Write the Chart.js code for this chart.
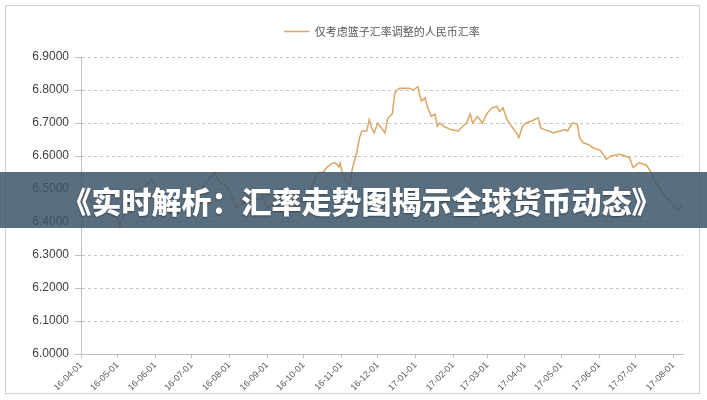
<!DOCTYPE html>
<html>
<head>
<meta charset="utf-8">
<script src="https://cdn.jsdelivr.net/npm/chart.js@4"></script>
<style>
  html, body { margin: 0; padding: 0; background: #fff; }
  #wrap { position: relative; width: 707px; height: 400px; }
  #frame { position: absolute; left: 5px; top: 5px; width: 693px; height: 387px; border: 1px solid #cfcfcf; }
  #banner {
    position: absolute; left: 0; top: 172px; width: 707px; height: 56px;
    background: rgba(60, 85, 105, 0.85); color: #fff;
    font: 900 30px "Noto Sans CJK SC", sans-serif; line-height: 56px;
    text-align: center; box-sizing: border-box; padding-left: 16px;
    text-shadow: 0 1px 2px rgba(0, 0, 0, 0.4);
  }
</style>
</head>
<body>
<div id="wrap">
  <div id="frame"></div>
  <canvas id="rateChart" width="707" height="400"></canvas>
  <div id="banner">《实时解析：汇率走势图揭示全球货币动态》</div>
</div>
<script>
// Basket-only CNY rate
const dates = [
  '2016-04-01', '2016-04-07', '2016-04-13', '2016-04-19', '2016-04-23', '2016-04-27',
  '2016-05-01', '2016-05-03', '2016-05-07', '2016-05-11', '2016-05-17', '2016-05-23', '2016-05-29',
  '2016-06-02', '2016-06-07', '2016-06-13', '2016-06-19', '2016-06-24', '2016-06-30',
  '2016-07-05', '2016-07-10', '2016-07-14', '2016-07-20', '2016-07-24', '2016-07-30',
  '2016-08-03', '2016-08-07', '2016-08-12', '2016-08-16', '2016-08-22', '2016-08-28',
  '2016-09-01', '2016-09-06', '2016-09-12', '2016-09-18', '2016-09-23', '2016-09-29',
  '2016-10-03', '2016-10-07', '2016-10-11', '2016-10-13', '2016-10-17', '2016-10-20', '2016-10-24', '2016-10-27', '2016-10-30', '2016-10-31',
  '2016-11-02', '2016-11-05', '2016-11-08', '2016-11-10', '2016-11-14', '2016-11-16', '2016-11-18', '2016-11-22', '2016-11-24', '2016-11-26', '2016-11-28',
  '2016-12-01', '2016-12-04', '2016-12-07', '2016-12-09', '2016-12-13', '2016-12-15', '2016-12-17', '2016-12-19', '2016-12-23', '2016-12-27', '2016-12-30',
  '2017-01-03', '2017-01-04', '2017-01-06', '2017-01-09', '2017-01-11', '2017-01-14', '2017-01-17', '2017-01-19', '2017-01-21', '2017-01-24', '2017-01-30',
  '2017-02-05', '2017-02-09', '2017-02-12', '2017-02-15', '2017-02-17', '2017-02-21', '2017-02-25',
  '2017-03-01', '2017-03-05', '2017-03-09', '2017-03-11', '2017-03-14', '2017-03-17', '2017-03-21', '2017-03-25', '2017-03-27', '2017-03-30',
  '2017-04-02', '2017-04-07', '2017-04-12', '2017-04-14', '2017-04-17', '2017-04-21', '2017-04-24', '2017-04-30',
  '2017-05-04', '2017-05-06', '2017-05-10', '2017-05-14', '2017-05-16', '2017-05-19', '2017-05-23', '2017-05-27',
  '2017-06-02', '2017-06-07', '2017-06-11', '2017-06-18', '2017-06-22', '2017-06-26', '2017-06-29',
  '2017-07-04', '2017-07-10', '2017-07-13', '2017-07-17', '2017-07-21', '2017-07-25', '2017-07-29',
  '2017-08-02', '2017-08-05', '2017-08-08'
];
const rates = [
  6.46, 6.47, 6.45, 6.44, 6.45, 6.425,
  6.41, 6.385, 6.43, 6.465, 6.495, 6.505, 6.53,
  6.505, 6.46, 6.43, 6.425, 6.44, 6.465,
  6.48, 6.505, 6.525, 6.55, 6.52, 6.51,
  6.475, 6.445, 6.455, 6.475, 6.465, 6.475,
  6.445, 6.45, 6.465, 6.47, 6.455, 6.46,
  6.475, 6.50, 6.535, 6.55, 6.55, 6.565, 6.577, 6.58, 6.567, 6.578,
  6.547, 6.525, 6.515, 6.56, 6.615, 6.655, 6.676, 6.676, 6.71, 6.685, 6.67,
  6.70, 6.685, 6.67, 6.712, 6.728, 6.79, 6.80, 6.805, 6.805, 6.805, 6.80,
  6.81, 6.79, 6.767, 6.776, 6.746, 6.72, 6.727, 6.69, 6.70, 6.69, 6.68,
  6.676, 6.69, 6.70, 6.727, 6.70, 6.72, 6.70,
  6.73, 6.746, 6.75, 6.735, 6.746, 6.713, 6.69, 6.67, 6.655, 6.69,
  6.70, 6.707, 6.716, 6.685, 6.68, 6.676, 6.67, 6.676,
  6.68, 6.676, 6.70, 6.697, 6.655, 6.64, 6.635, 6.625,
  6.617, 6.59, 6.60, 6.605, 6.60, 6.595, 6.565,
  6.58, 6.572, 6.555, 6.525, 6.50, 6.48, 6.465,
  6.445, 6.435, 6.45
];
const tickLabels = ['16-04-01', '16-05-01', '16-06-01', '16-07-01', '16-08-01', '16-09-01', '16-10-01', '16-11-01',
  '16-12-01', '17-01-01', '17-02-01', '17-03-01', '17-04-01', '17-05-01', '17-06-01', '17-07-01', '17-08-01'];
const yTicks = [6.0, 6.1, 6.2, 6.3, 6.4, 6.5, 6.6, 6.7, 6.8, 6.9];
const lastDate = '2017-08-09';

// days since the first date, used as x position
function dayOf(s) {
    const p = s.split('-').map(Number);
    return (Date.UTC(p[0], p[1] - 1, p[2]) - Date.UTC(2016, 3, 1)) / 86400000;
}
const tickDays = tickLabels.map(t => dayOf('20' + t));
const points = dates.map((d, i) => ({ x: dayOf(d), y: rates[i] }));

const lineColor = '#DAA664';
const ctx = document.getElementById('rateChart').getContext('2d');
const rateChart = new Chart(ctx, {
    type: 'line',
    data: {
        datasets: [{
            label: '仅考虑篮子汇率调整的人民币汇率',
            data: points,
            borderColor: lineColor,
            backgroundColor: lineColor,
            borderWidth: 1.5,
            pointRadius: 0,
            tension: 0,
            fill: false,
        }]
    },
    options: {
        responsive: false,
        animation: false,
        layout: { padding: { left: 6, right: 24, top: 14, bottom: 6 } },
        plugins: {
            legend: {
                position: 'top',
                fullSize: false,
                labels: {
                    usePointStyle: true,
                    pointStyle: 'line',
                    pointStyleWidth: 25,
                    font: { size: 11, family: 'Noto Sans CJK SC' },
                    color: '#595959',
                    padding: 12,
                },
            },
            tooltip: { enabled: false },
        },
        scales: {
            x: {
                type: 'linear',
                min: 0,
                max: dayOf(lastDate),
                afterBuildTicks: (s) => { s.ticks = tickDays.map(v => ({ value: v })); },
                afterFit: (s) => { s.height = 40; },
                ticks: {
                    autoSkip: false,
                    minRotation: 45,
                    maxRotation: 45,
                    font: { size: 9, family: 'Liberation Sans' },
                    color: '#595959',
                    padding: 2,
                    callback: (v, i) => tickLabels[i],
                },
                grid: { drawOnChartArea: false, drawTicks: true, tickLength: 4, color: '#bfbfbf' },
                border: { color: '#bfbfbf' },
            },
            // empty strip between legend and plot
            gap: {
                type: 'linear',
                position: 'top',
                afterFit: (s) => { s.height = 10; },
                ticks: { display: false },
                grid: { display: false },
                border: { display: false },
            },
            y: {
                min: 6.0,
                max: 6.9,
                afterBuildTicks: (s) => { s.ticks = yTicks.map(v => ({ value: v })); },
                afterFit: (s) => { s.width = 75; },
                ticks: {
                    font: { size: 12, family: 'Liberation Sans' },
                    color: '#404040',
                    padding: 6,
                    callback: (v) => Number(v).toFixed(4),
                },
                grid: {
                    color: '#c4c4c4',
                    drawTicks: true,
                    tickLength: 6,
                    tickColor: '#bfbfbf',
                    tickBorderDash: [],
                    lineWidth: 1,
                },
                border: { color: '#bfbfbf', dash: [3, 3] },
            },
        },
    },
});
</script>
</body>
</html>
